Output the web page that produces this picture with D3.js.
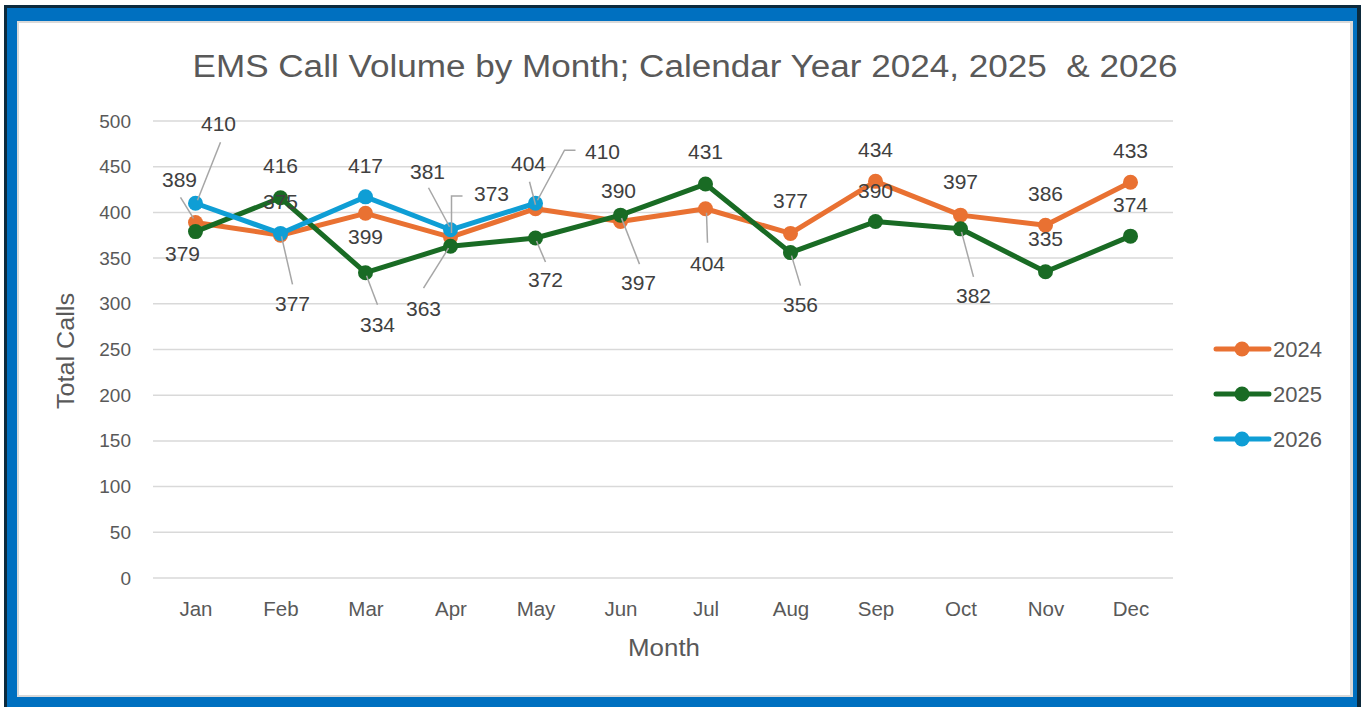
<!DOCTYPE html>
<html>
<head>
  <meta charset="UTF-8" />
  <title>EMS Call Volume</title>
  <script src="https://cdn.jsdelivr.net/npm/d3@7"></script>
  <style>
    body { margin: 0; background: #ffffff; }
    svg { display: block; font-family: "Liberation Sans", Arial, sans-serif; }
    .pre { white-space: pre; }
  </style>
</head>
<body>
  <svg width="1361" height="707"></svg>
  <script>
    // data
    var months = ["Jan", "Feb", "Mar", "Apr", "May", "Jun", "Jul", "Aug", "Sep", "Oct", "Nov", "Dec"];
    var calls2024 = [389, 375, 399, 373, 404, 390, 404, 377, 434, 397, 386, 433];
    var calls2025 = [379, 416, 334, 363, 372, 397, 431, 356, 390, 382, 335, 374];
    var calls2026 = [410, 377, 417, 381, 410];
    var yTicks = [0, 50, 100, 150, 200, 250, 300, 350, 400, 450, 500];

    var series = [
      { name: "2024", values: calls2024, color: "#e97132" },
      { name: "2025", values: calls2025, color: "#196b24" },
      { name: "2026", values: calls2026, color: "#0f9ed5" }
    ];

    // label placement (offset from the point, optional leader line)
    var labelPos = {
      "2024": [
        { d: [-16, -43], l: [[-2, -4], [-15, -25]] },
        { d: [0, -34] },
        { d: [0, 23] },
        { d: [41, -43], l: [[1, -4], [1, -41], [12, -41]] },
        { d: [-7, -45], l: [[0, -4], [-6, -27]] },
        { d: [-2, -31] },
        { d: [2, 55], l: [[1, 4], [2, 34]] },
        { d: [0, -33] },
        { d: [0, -32] },
        { d: [0, -33] },
        { d: [0, -32] },
        { d: [0, -32] }
      ],
      "2025": [
        { d: [-13, 22] },
        { d: [0, -32] },
        { d: [12, 52], l: [[1, 3], [12, 32]] },
        { d: [-27, 62], l: [[-2, 2], [-27, 42]] },
        { d: [10, 42], l: [[1, 3], [10, 24]] },
        { d: [18, 68], l: [[1, 3], [19, 49]] },
        { d: [0, -32] },
        { d: [10, 52], l: [[1, 3], [10, 33]] },
        { d: [0, -31] },
        { d: [13, 67], l: [[1, 3], [13, 48]] },
        { d: [0, -33] },
        { d: [0, -32] }
      ],
      "2026": [
        { d: [23, -80], l: [[2, -3], [25, -61]] },
        { d: [12, 70], l: [[1, 3], [12, 51]] },
        { d: [0, -31] },
        { d: [-23, -58], l: [[-1, -3], [-22, -42]] },
        { d: [67, -52], l: [[2, -3], [29, -53], [40, -53]] }
      ]
    };

    var svg = d3.select("svg");
    var W = 1361, H = 707;

    // frame
    svg.append("rect").attr("x", 4).attr("y", 5).attr("width", W - 4).attr("height", H - 5).attr("fill", "#0c2a3d");
    svg.append("rect").attr("x", 7).attr("y", 8).attr("width", 1350).attr("height", 699).attr("fill", "#0070c0");
    svg.append("rect").attr("x", 17).attr("y", 21).attr("width", 1336).attr("height", 676).attr("fill", "#d9d9d9");
    svg.append("rect").attr("x", 19).attr("y", 23).attr("width", 1331).attr("height", 672).attr("fill", "#ffffff");

    var marge = { top: 121, bottom: 578, left: 153, right: 1173 };

    var x = d3.scalePoint().domain(months).range([marge.left, marge.right]).padding(0.5);
    var y = d3.scaleLinear().domain([0, 500]).range([marge.bottom, marge.top]);

    // gridlines
    svg.append("g")
      .selectAll("line")
      .data(yTicks)
      .enter()
      .append("line")
      .attr("x1", marge.left)
      .attr("x2", marge.right)
      .attr("y1", function (d) { return y(d); })
      .attr("y2", function (d) { return y(d); })
      .attr("stroke", "#d9d9d9")
      .attr("stroke-width", 1.5);

    // y axis labels
    var yAxis = svg.append("g")
      .attr("transform", "translate(" + (marge.left - 8) + ",0)")
      .call(d3.axisLeft(y).tickValues(yTicks).tickSize(0).tickPadding(14));
    yAxis.select(".domain").remove();
    yAxis.selectAll("text")
      .attr("font-size", 19)
      .attr("font-family", "Liberation Sans, Arial, sans-serif")
      .attr("fill", "#595959");

    // x axis labels
    var xAxis = svg.append("g")
      .attr("transform", "translate(0," + marge.bottom + ")")
      .call(d3.axisBottom(x).tickSize(0).tickPadding(23));
    xAxis.select(".domain").remove();
    xAxis.selectAll("text")
      .attr("font-size", 20.5)
      .attr("font-family", "Liberation Sans, Arial, sans-serif")
      .attr("fill", "#595959");

    // titles
    svg.append("text")
      .attr("class", "pre")
      .attr("x", 685)
      .attr("y", 77)
      .attr("text-anchor", "middle")
      .attr("font-size", 31)
      .attr("textLength", 985)
      .attr("lengthAdjust", "spacingAndGlyphs")
      .attr("fill", "#595959")
      .text("EMS Call Volume by Month; Calendar Year 2024, 2025  & 2026");

    svg.append("text")
      .attr("x", 664)
      .attr("y", 656)
      .attr("text-anchor", "middle")
      .attr("font-size", 23)
      .attr("textLength", 72)
      .attr("lengthAdjust", "spacingAndGlyphs")
      .attr("fill", "#595959")
      .text("Month");

    svg.append("text")
      .attr("transform", "translate(74,351) rotate(-90)")
      .attr("text-anchor", "middle")
      .attr("font-size", 23)
      .attr("textLength", 116)
      .attr("lengthAdjust", "spacingAndGlyphs")
      .attr("fill", "#595959")
      .text("Total Calls");

    var line = d3.line()
      .x(function (d, i) { return x(months[i]); })
      .y(function (d) { return y(d); });

    // lines + markers
    var sg = svg.append("g")
      .selectAll("g")
      .data(series)
      .enter()
      .append("g");

    sg.append("path")
      .attr("d", function (d) { return line(d.values); })
      .attr("fill", "none")
      .attr("stroke", function (d) { return d.color; })
      .attr("stroke-width", 5)
      .attr("stroke-linejoin", "round")
      .attr("stroke-linecap", "round");

    sg.selectAll("circle")
      .data(function (d) { return d.values.map(function (v, i) { return { v: v, i: i, c: d.color }; }); })
      .enter()
      .append("circle")
      .attr("cx", function (d) { return x(months[d.i]); })
      .attr("cy", function (d) { return y(d.v); })
      .attr("r", 7.5)
      .attr("fill", function (d) { return d.c; });

    // data labels + leader lines
    var labels = [];
    series.forEach(function (s) {
      s.values.forEach(function (v, i) {
        labels.push({ v: v, px: x(months[i]), py: y(v), pos: labelPos[s.name][i] });
      });
    });

    svg.append("g")
      .selectAll("path")
      .data(labels.filter(function (d) { return d.pos.l; }))
      .enter()
      .append("path")
      .attr("d", function (d) {
        return d3.line()(d.pos.l.map(function (p) { return [d.px + p[0], d.py + p[1]]; }));
      })
      .attr("fill", "none")
      .attr("stroke", "#a6a6a6")
      .attr("stroke-width", 1.5);

    svg.append("g")
      .selectAll("text")
      .data(labels)
      .enter()
      .append("text")
      .attr("x", function (d) { return d.px + d.pos.d[0]; })
      .attr("y", function (d) { return d.py + d.pos.d[1]; })
      .attr("dy", "0.35em")
      .attr("text-anchor", "middle")
      .attr("font-size", 21)
      .attr("fill", "#404040")
      .text(function (d) { return d.v; });

    // legend
    var legend = svg.append("g")
      .selectAll("g")
      .data(series)
      .enter()
      .append("g")
      .attr("transform", function (d, i) { return "translate(1214," + (349 + i * 45) + ")"; });

    legend.append("line")
      .attr("x1", 2).attr("x2", 55)
      .attr("stroke", function (d) { return d.color; })
      .attr("stroke-width", 5)
      .attr("stroke-linecap", "round");
    legend.append("circle")
      .attr("cx", 28)
      .attr("r", 7.5)
      .attr("fill", function (d) { return d.color; });
    legend.append("text")
      .attr("x", 59)
      .attr("dy", "0.35em")
      .attr("font-size", 22)
      .attr("fill", "#595959")
      .text(function (d) { return d.name; });
  </script>
</body>
</html>
